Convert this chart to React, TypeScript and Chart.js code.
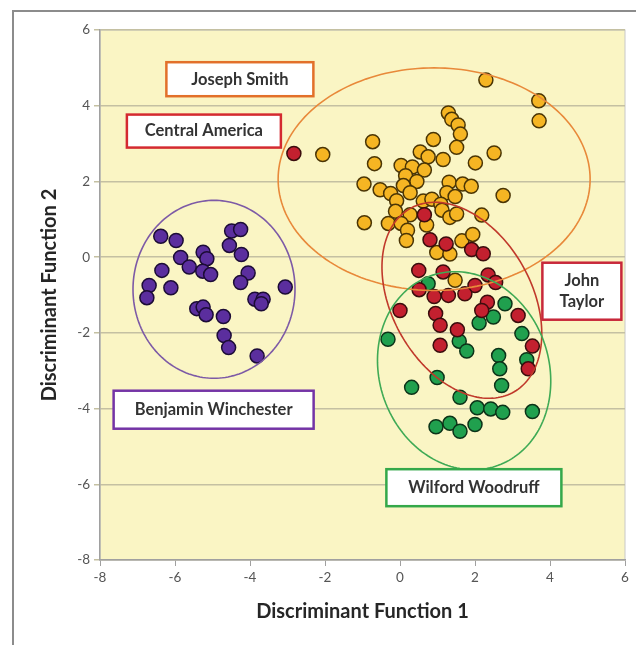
import React, { useEffect, useRef } from "react";
import { Chart, registerables } from "chart.js";

Chart.register(...registerables);

// ---- Data -----------------------------------------------------------
const xTickValues = [-8, -6, -4, -2, 0, 2, 4, 6];
const yTickValues = [-8, -6, -4, -2, 0, 2, 4, 6];

const josephSmith: [number, number][] = [
  [2.29, 4.68], [3.7, 4.13], [3.71, 3.6], [-2.06, 2.71], [-0.73, 3.05], [-0.68, 2.47],
  [1.29, 3.81], [1.38, 3.64], [1.55, 3.49], [1.61, 3.25], [0.89, 3.11], [1.51, 2.9],
  [2.51, 2.75], [0.54, 2.78], [0.75, 2.65], [1.15, 2.58], [2.01, 2.49], [0.03, 2.42],
  [0.33, 2.38], [0.65, 2.3], [0.15, 2.15], [0.45, 2.0], [-0.96, 1.93], [-0.53, 1.78],
  [-0.25, 1.68], [0.09, 1.89], [0.27, 1.7], [1.31, 1.98], [1.67, 1.93], [1.9, 1.87],
  [1.25, 1.7], [1.47, 1.6], [2.75, 1.63], [-0.09, 1.49], [0.62, 1.48], [0.85, 1.53],
  [1.09, 1.4], [-0.12, 1.21], [0.27, 1.12], [1.12, 1.24], [1.33, 1.05], [1.51, 1.14],
  [2.18, 1.11], [-0.95, 0.91], [-0.31, 0.89], [0.03, 0.89], [0.71, 0.85], [0.2, 0.71],
  [0.17, 0.44], [1.65, 0.43], [1.94, 0.6], [0.98, 0.12], [1.33, 0.08], [1.47, -0.61],
];

const centralAmerica: [number, number][] = [[-2.83, 2.74]];

const johnTaylor: [number, number][] = [
  [0.65, 1.12], [0.8, 0.46], [1.23, 0.35], [1.91, 0.2], [2.22, 0.09], [0.5, -0.35],
  [1.15, -0.39], [2.35, -0.47], [2.55, -0.67], [2.0, -0.75], [0.51, -0.86], [0.91, -1.04],
  [1.29, -1.01], [1.73, -0.97], [0.0, -1.41], [0.95, -1.49], [1.07, -1.8], [2.33, -1.19],
  [2.18, -1.41], [3.15, -1.54], [1.53, -1.92], [1.07, -2.33], [3.53, -2.35], [3.42, -2.95],
];

const wilfordWoodruff: [number, number][] = [
  [0.75, -0.7], [2.8, -1.23], [2.49, -1.58], [2.11, -1.74], [-0.32, -2.17], [3.25, -2.02],
  [1.58, -2.22], [1.78, -2.48], [2.63, -2.6], [3.38, -2.71], [2.66, -2.95], [2.71, -3.39],
  [0.99, -3.18], [0.31, -3.44], [1.6, -3.7], [2.06, -3.98], [2.42, -4.01], [2.74, -4.1],
  [3.53, -4.08], [0.96, -4.48], [1.33, -4.39], [1.6, -4.6], [2.0, -4.42],
];

const benjaminWinchester: [number, number][] = [
  [-6.38, 0.55], [-5.97, 0.44], [-4.49, 0.69], [-4.25, 0.73], [-4.55, 0.31], [-4.23, 0.07],
  [-5.25, 0.13], [-5.15, -0.04], [-5.85, -0.01], [-5.62, -0.26], [-5.26, -0.37], [-5.05, -0.46],
  [-6.35, -0.35], [-6.69, -0.75], [-6.75, -1.07], [-6.11, -0.81], [-4.05, -0.42], [-4.25, -0.67],
  [-3.06, -0.79], [-3.87, -1.11], [-3.65, -1.11], [-3.7, -1.23], [-5.42, -1.36], [-5.25, -1.32],
  [-5.17, -1.52], [-4.71, -1.57], [-4.69, -2.07], [-4.57, -2.39], [-3.81, -2.61],
];

// Ellipse parameters (centre x, centre y, semi-axes, rotation in degrees)
const ellipseCentreX = [0.91, 1.65, 1.71, -4.96];
const ellipseCentreY = [2.06, -1.14, -3.0, -0.85];
const ellipseSemiA = [4.16, 2.79, 2.66, 2.16];
const ellipseSemiB = [2.94, 1.86, 2.26, 2.35];
const ellipseAngle = [0, -60, -70, 0];

const labelTexts: string[][] = [
  ["Joseph Smith"],
  ["Central America"],
  ["John", "Taylor"],
  ["Benjamin Winchester"],
  ["Wilford Woodruff"],
];
const labelX = [-4.27, -5.23, 4.85, -4.97, 1.97];
const labelY = [4.7, 3.33, -0.9, -4.03, -6.09];

// ---- Styles ---------------------------------------------------------
const ellipseColors = ["#E8893A", "#C0392B", "#3FAA55", "#7D5AA6"];
const labelColors = ["#E2702A", "#D42A30", "#C8283A", "#7434A6", "#34A84A"];
const labelW = [147, 154, 79, 200, 175];
const labelH = [34, 33, 57, 38, 37];

const FONT = "Lato, 'Open Sans', 'DejaVu Sans', sans-serif";

const toPts = (arr: [number, number][]) => arr.map(([x, y]) => ({ x, y }));

const decorPlugin = {
  id: "decor",
  beforeDraw(chart: any) {
    const { ctx, chartArea } = chart;
    const { left, top, right, bottom } = chartArea;
    ctx.save();
    ctx.fillStyle = "#ffffff";
    ctx.fillRect(0, 0, chart.width, chart.height);
    ctx.strokeStyle = "#8c8c8c";
    ctx.lineWidth = 2;
    ctx.beginPath();
    ctx.moveTo(13, chart.height);
    ctx.lineTo(13, 11);
    ctx.lineTo(chart.width, 11);
    ctx.stroke();
    ctx.fillStyle = "#FAF5C4";
    ctx.fillRect(left, top, right - left, bottom - top);
    ctx.strokeStyle = "#c8c8c8";
    ctx.lineWidth = 1;
    ctx.strokeRect(left, top, right - left, bottom - top);
    ctx.restore();
  },
  afterDatasetsDraw(chart: any) {
    const { ctx } = chart;
    const xs = chart.scales.x;
    const ys = chart.scales.y;
    ctx.save();
    // ellipses
    for (let i = 0; i < ellipseCentreX.length; i++) {
      const th = (ellipseAngle[i] * Math.PI) / 180;
      const c = Math.cos(th);
      const s = Math.sin(th);
      ctx.beginPath();
      const n = 180;
      for (let k = 0; k <= n; k++) {
        const t = (k / n) * Math.PI * 2;
        const ex = ellipseSemiA[i] * Math.cos(t);
        const ey = ellipseSemiB[i] * Math.sin(t);
        const dx = ellipseCentreX[i] + ex * c - ey * s;
        const dy = ellipseCentreY[i] + ex * s + ey * c;
        const px = xs.getPixelForValue(dx);
        const py = ys.getPixelForValue(dy);
        if (k === 0) ctx.moveTo(px, py);
        else ctx.lineTo(px, py);
      }
      ctx.closePath();
      ctx.strokeStyle = ellipseColors[i];
      ctx.lineWidth = 1.6;
      ctx.stroke();
    }
    // label boxes
    for (let i = 0; i < labelTexts.length; i++) {
      const cx = xs.getPixelForValue(labelX[i]);
      const cy = ys.getPixelForValue(labelY[i]);
      const w = labelW[i];
      const h = labelH[i];
      ctx.fillStyle = "#ffffff";
      ctx.fillRect(cx - w / 2, cy - h / 2, w, h);
      ctx.strokeStyle = labelColors[i];
      ctx.lineWidth = 2.5;
      ctx.strokeRect(cx - w / 2, cy - h / 2, w, h);
      ctx.fillStyle = "#333333";
      ctx.font = `bold 16.5px ${FONT}`;
      ctx.textAlign = "center";
      ctx.textBaseline = "middle";
      const lines = labelTexts[i];
      const lh = 21;
      lines.forEach((ln, j) => {
        ctx.fillText(ln, cx, cy + (j - (lines.length - 1) / 2) * lh);
      });
    }
    ctx.restore();
  },
};

export default function App() {
  const ref = useRef<HTMLCanvasElement | null>(null);

  useEffect(() => {
    if (!ref.current) return;
    const mk = (label: string, data: [number, number][], fill: string, border: string) => ({
      label,
      data: toPts(data),
      backgroundColor: fill,
      borderColor: border,
      borderWidth: 1.5,
      pointRadius: 7,
      pointHoverRadius: 7,
      showLine: false,
    });
    const chart = new Chart(ref.current, {
      type: "scatter",
      data: {
        datasets: [
          mk("Central America", centralAmerica, "#C3202F", "#3a0d0d"),
          mk("John Taylor", johnTaylor, "#C3202F", "#3a0d0d"),
          mk("Joseph Smith", josephSmith, "#F5B523", "#4a3505"),
          mk("Wilford Woodruff", wilfordWoodruff, "#20A04E", "#0c3318"),
          mk("Benjamin Winchester", benjaminWinchester, "#5B2E9E", "#1c0c36"),
        ],
      },
      options: {
        responsive: false,
        animation: false,
        devicePixelRatio: 1,
        layout: { padding: { left: 0, top: 30, right: 11, bottom: 0 } },
        plugins: {
          legend: { display: false },
          tooltip: { enabled: false },
        },
        scales: {
          x: {
            type: "linear",
            min: -8,
            max: 6,
            afterBuildTicks: (s: any) => {
              s.ticks = xTickValues.map((v) => ({ value: v }));
            },
            afterFit: (s: any) => {
              s.height = 85;
            },
            grid: { drawOnChartArea: false, drawTicks: true, tickLength: 6, color: "#a0a0a0" },
            border: { display: true, color: "#a0a0a0", width: 1.5 },
            ticks: { color: "#555555", font: { family: FONT, size: 13.5 }, padding: 4 },
            title: {
              display: true,
              text: "Discriminant Function 1",
              color: "#262626",
              font: { family: FONT, size: 20, weight: "bold" },
              padding: { top: 0, bottom: 21 },
            },
          },
          y: {
            type: "linear",
            min: -8,
            max: 6,
            afterBuildTicks: (s: any) => {
              s.ticks = yTickValues.map((v) => ({ value: v }));
            },
            afterFit: (s: any) => {
              s.width = 100;
            },
            grid: { drawOnChartArea: true, drawTicks: true, tickLength: 6, color: "#c4c0a2", lineWidth: 1.5 },
            border: { display: true, color: "#a0a0a0", width: 1.5 },
            ticks: { color: "#555555", font: { family: FONT, size: 13.5 }, padding: 4 },
            title: {
              display: true,
              text: "Discriminant Function 2",
              color: "#262626",
              font: { family: FONT, size: 20, weight: "bold" },
              padding: { top: 38, bottom: 0 },
            },
          },
        },
      },
      plugins: [decorPlugin],
    } as any);
    return () => chart.destroy();
  }, []);

  return (
    <div style={{ position: "absolute", left: 0, top: 0, width: 636, height: 645 }}>
      <canvas ref={ref} width={636} height={645} style={{ display: "block" }} />
    </div>
  );
}
